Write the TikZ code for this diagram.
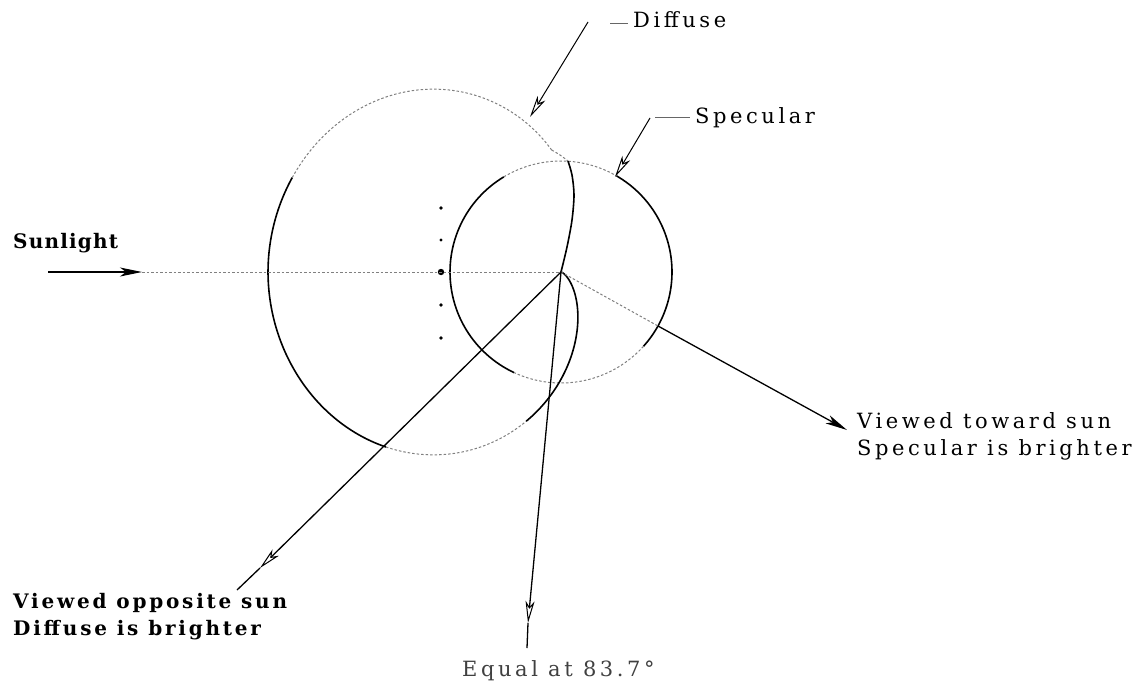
\documentclass[tikz,border=0pt]{standalone}
\usepackage{fontspec}
\setmainfont{DejaVu Serif}[LetterSpace=17]
\newfontfamily\heavyfont{DejaVu Serif}[LetterSpace=14]
\usetikzlibrary{arrows.meta}
\begin{document}
\begin{tikzpicture}[x=1pt,y=-1pt,
  declare function={Rd(\t)=293*(sin(abs(\t))+(pi-abs(\t)*pi/180)*cos(\t))/pi;},
  solidcurve/.style={line width=1.6pt, black},
  faintcurve/.style={line width=1pt, black!50, dash pattern=on 2.5pt off 2pt},
  lbl/.style={font=\fontsize{21}{25}\selectfont, inner sep=0pt, anchor=base west},
  heavylbl/.style={font=\fontsize{20}{25}\heavyfont\bfseries, inner sep=0pt, anchor=base west},
  arrowline/.style={line width=1.3pt, black},
  opendart/.style={-{Stealth[open, length=22pt, width=9pt, inset=6pt, line width=1pt]}},
  darthead/.style={-{Stealth[length=22pt, width=9pt, inset=6pt]}},
  leader/.style={line width=0.8pt, black!60}
]
\useasboundingbox (0,0) rectangle (1145,691);

% ---- coordinates
\coordinate (O) at (561,272);
\coordinate (sunStart) at (48,272);
\coordinate (sunTip) at (142,272);
\coordinate (towardMid) at (658,326);
\coordinate (towardTip) at (847,430);
\coordinate (oppTip) at (260,568);
\coordinate (oppEnd) at (237,590);
\coordinate (eqTip) at (528,623);
\coordinate (eqEnd) at (527,648);
\coordinate (diffTail) at (588,22);
\coordinate (diffTip) at (530,117);
\coordinate (specTail) at (650,118);
\coordinate (specTip) at (615,177);
\coordinate (diffLeadA) at (610,23);
\coordinate (diffLeadB) at (628,23);
\coordinate (specLeadA) at (655,117);
\coordinate (specLeadB) at (690,117);

% ---- specular (circle)
\draw[solidcurve] plot[domain=115:239, samples=60, smooth] ({561+111*cos(\x)}, {272+111*sin(\x)});
\draw[solidcurve] plot[domain=-60:42, samples=60, smooth] ({561+111*cos(\x)}, {272+111*sin(\x)});
\draw[faintcurve] plot[domain=42:115, samples=40, smooth] ({561+111*cos(\x)}, {272+111*sin(\x)});
\draw[faintcurve] plot[domain=239:300, samples=40, smooth] ({561+111*cos(\x)}, {272+111*sin(\x)});

% ---- diffuse (Lambert phase curve)
\draw[solidcurve] plot[domain=-17:41, samples=60, smooth] ({561-Rd(\x)*cos(\x)}, {272+1.15*Rd(\x)*sin(\x)});
\draw[faintcurve] plot[domain=41:75, samples=40, smooth] ({561-Rd(\x)*cos(\x)}, {272+1.15*Rd(\x)*sin(\x)});
\draw[solidcurve] plot[domain=75:180, samples=80, smooth] ({561-Rd(\x)*cos(\x)}, {272+1.15*Rd(\x)*sin(\x)});
\draw[faintcurve] plot[domain=-85:-17, samples=60, smooth] ({561-Rd(\x)*cos(\x)}, {272+1.15*Rd(\x)*sin(\x)});
\draw[faintcurve] plot[smooth] coordinates {(551.7,150) (560,155) (568,161)};
\draw[solidcurve] plot[smooth] coordinates {(568,161) (572,175) (574,195) (572,220) (567,247) (561,272)};

% ---- dots
\fill (441,208) circle[radius=1.8pt];
\fill (441,240) circle[radius=1.6pt];
\fill (441,272) circle[radius=3.2pt];
\fill (441,305) circle[radius=1.8pt];
\fill (441,338) circle[radius=1.8pt];

% ---- sunlight
\draw[arrowline, darthead] (sunStart) -- (sunTip);
\draw[faintcurve] (sunTip) -- (O);

% ---- viewing directions
\draw[faintcurve] (O) -- (towardMid);
\draw[arrowline, darthead] (towardMid) -- (towardTip);
\draw[arrowline, opendart] (O) -- (oppTip);
\draw[arrowline] (oppTip) -- (oppEnd);
\draw[arrowline, opendart] (O) -- (eqTip);
\draw[arrowline] (eqTip) -- (eqEnd);

% ---- label pointers
\draw[line width=1pt, opendart] (diffTail) -- (diffTip);
\draw[line width=1pt, opendart] (specTail) -- (specTip);
\draw[leader] (diffLeadA) -- (diffLeadB);
\draw[leader] (specLeadA) -- (specLeadB);

% ---- labels
\node[heavylbl] (sunlbl) at (13,248) {\addfontfeature{LetterSpace=6}Sunlight};
\node[lbl] (difflbl) at (633,27) {Diffuse};
\node[lbl] (speclbl) at (695,123) {Specular};
\node[lbl] (toward1) at (857,428) {Viewed toward sun};
\node[lbl] (toward2) at (857,455) {Specular is brighter};
\node[heavylbl] (opp1) at (13,608) {Viewed opposite sun};
\node[heavylbl] (opp2) at (13,635) {Diffuse is brighter};
\node[lbl, text=black!75] (equal) at (462,676) {Equal at 83.7°};
\end{tikzpicture}
\end{document}
